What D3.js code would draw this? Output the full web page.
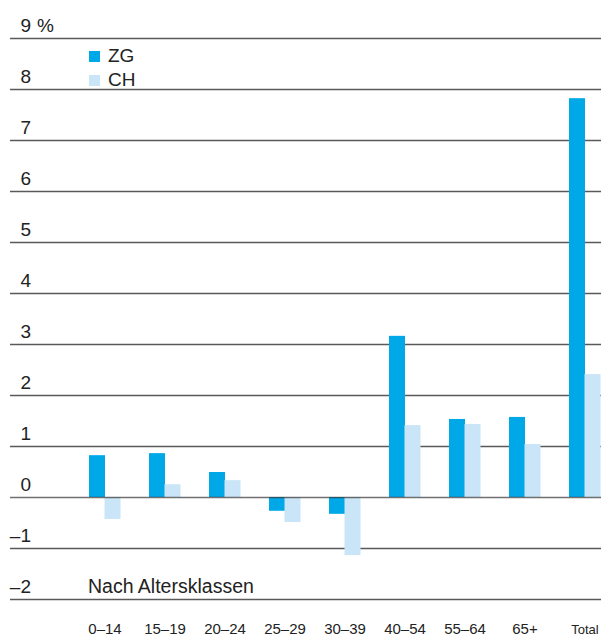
<!DOCTYPE html>
<html>
<head>
<meta charset="utf-8">
<script src="https://cdn.jsdelivr.net/npm/d3@7"></script>
<style>
  html, body { margin: 0; padding: 0; background: #fff; }
  svg { display: block; }
  text { font-family: "Liberation Sans", Arial, sans-serif; fill: #222; }
</style>
</head>
<body>
<svg id="chart" width="601" height="637"></svg>
<script>
const categories = ["0–14", "15–19", "20–24", "25–29", "30–39", "40–54", "55–64", "65+", "Total"];
const seriesNames = ["ZG", "CH"];
const zgValues = [0.82, 0.86, 0.49, -0.27, -0.33, 3.16, 1.53, 1.57, 7.82];
const chValues = [-0.43, 0.25, 0.33, -0.49, -1.14, 1.41, 1.43, 1.04, 2.41];
const yTicks = [-2, -1, 0, 1, 2, 3, 4, 5, 6, 7, 8, 9];
const colors = { ZG: "#00a8e8", CH: "#c9e5f7" };
const subtitle = "Nach Altersklassen";

const svg = d3.select("#chart");
const y = d3.scaleLinear().domain([-2, 9]).range([599, 38]);
const x = d3.scaleBand().domain(categories).range([89, 601]).paddingInner(28 / 60).paddingOuter(0);
const xs = d3.scaleBand().domain(seriesNames).range([0, x.bandwidth()]);

// gridlines
svg.append("g").selectAll("line").data(yTicks.filter(d => d !== 0)).join("line")
  .attr("x1", 10).attr("x2", 601)
  .attr("y1", d => Math.round(y(d)) + 0.5).attr("y2", d => Math.round(y(d)) + 0.5)
  .attr("stroke", "#5a5a5a").attr("stroke-width", 1.6);

// y labels
const lbl = svg.append("g");
lbl.selectAll("text").data(yTicks).join("text")
  .attr("x", 31).attr("y", d => y(d) - 6)
  .attr("text-anchor", "end")
  .style("font-size", "19px")
  .text(d => d < 0 ? "–" + Math.abs(d) : String(d));
lbl.append("text").attr("x", 37).attr("y", y(9) - 6).style("font-size", "19px").text("%");

// bars
const rows = categories.map((c, i) => ({ cat: c, vals: [{ s: "ZG", v: zgValues[i] }, { s: "CH", v: chValues[i] }] }));
const grp = svg.append("g").selectAll("g").data(rows).join("g")
  .attr("transform", d => `translate(${x(d.cat)},0)`);
grp.selectAll("rect").data(d => d.vals).join("rect")
  .attr("x", d => xs(d.s) - (d.s === "CH" ? 0.5 : 0))
  .attr("width", xs.bandwidth())
  .attr("y", d => y(Math.max(0, d.v)))
  .attr("height", d => Math.abs(y(d.v) - y(0)))
  .attr("fill", d => colors[d.s]);

// zero line over bars
svg.append("line")
  .attr("x1", 10).attr("x2", 601)
  .attr("y1", Math.round(y(0)) + 0.5).attr("y2", Math.round(y(0)) + 0.5)
  .attr("stroke", "#333").attr("stroke-opacity", 0.7).attr("stroke-width", 1.6);

// x labels
svg.append("g").selectAll("text").data(categories).join("text")
  .attr("x", d => x(d) + x.bandwidth() / 2)
  .attr("y", 634)
  .attr("text-anchor", "middle")
  .style("font-size", d => d === "Total" ? "13px" : "15px")
  .text(d => d);

// legend
const leg = svg.append("g").selectAll("g").data(seriesNames).join("g")
  .attr("transform", (d, i) => `translate(89,${51 + i * 24})`);
leg.append("rect").attr("width", 11).attr("height", 11).attr("fill", d => colors[d]);
leg.append("text").attr("x", 19).attr("y", 11).style("font-size", "19px").text(d => d);

// subtitle
svg.append("text").attr("x", 88).attr("y", 593).style("font-size", "19.5px").text(subtitle);
</script>
</body>
</html>
